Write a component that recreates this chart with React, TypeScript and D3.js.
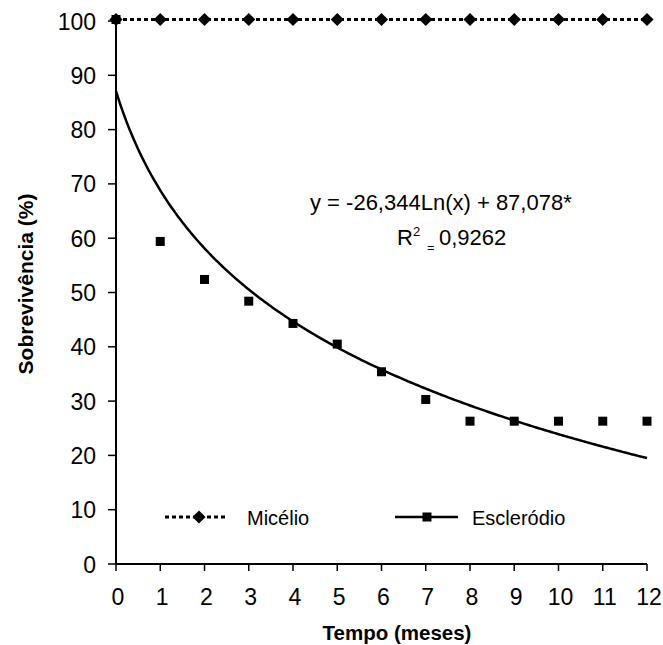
import React, { useEffect, useRef } from "react";
import * as d3 from "d3";

// months 0..12
const months = [0, 1, 2, 3, 4, 5, 6, 7, 8, 9, 10, 11, 12];
const micelio = [100, 100, 100, 100, 100, 100, 100, 100, 100, 100, 100, 100, 100];
const esclerodio = [100, 59.4, 52.4, 48.4, 44.3, 40.5, 35.4, 30.3, 26.3, 26.3, 26.3, 26.3, 26.3];
const yTicks = [0, 10, 20, 30, 40, 50, 60, 70, 80, 90, 100];
// trend line y = -26,344 ln(x) + 87,078 (x = position on the axis + 1)
const trendA = -26.344;
const trendB = 87.078;

const W = 663, H = 645;
const FONT = "Arial, 'Liberation Sans', sans-serif";

export default function App() {
  const ref = useRef<SVGSVGElement>(null);

  useEffect(() => {
    const svg = d3.select(ref.current);
    svg.selectAll("*").remove();

    const x = d3.scaleLinear().domain([0, 12]).range([116, 647]);
    const y = d3.scaleLinear().domain([0, 100]).range([564, 21]);

    const txt = (px: number, py: number, s: string, size: number, anchor = "start", weight = "normal") =>
      svg.append("text")
        .attr("x", px).attr("y", py)
        .attr("text-anchor", anchor)
        .style("font-family", FONT)
        .style("font-size", size + "px")
        .style("font-weight", weight)
        .text(s);

    // axes
    svg.append("line").attr("x1", x(0)).attr("x2", x(0)).attr("y1", y(100)).attr("y2", y(0))
      .attr("stroke", "#000").attr("stroke-width", 2);
    svg.append("line").attr("x1", x(0)).attr("x2", x(12)).attr("y1", y(0)).attr("y2", y(0))
      .attr("stroke", "#000").attr("stroke-width", 2);

    yTicks.forEach(t => {
      svg.append("line").attr("x1", x(0) - 8).attr("x2", x(0)).attr("y1", y(t)).attr("y2", y(t))
        .attr("stroke", "#000").attr("stroke-width", 1.5);
      txt(96, y(t) + 8.5, String(t), 23, "end");
    });
    months.forEach(m => {
      svg.append("line").attr("x1", x(m)).attr("x2", x(m)).attr("y1", y(0)).attr("y2", y(0) + 7)
        .attr("stroke", "#000").attr("stroke-width", 1.5);
      txt(x(m) + 2, 605, String(m), 23, "middle");
    });

    // titles
    txt(397, 640, "Tempo (meses)", 20.5, "middle", "bold");
    svg.append("text")
      .attr("transform", "translate(33,284) rotate(-90)")
      .attr("text-anchor", "middle")
      .style("font-family", FONT).style("font-size", "21px").style("font-weight", "bold")
      .text("Sobrevivência (%)");

    // trend line
    const trendPts = d3.range(0, 12.001, 0.05).map(v => [v, trendA * Math.log(v + 1) + trendB]);
    svg.append("path")
      .attr("d", d3.line<number[]>().x(d => x(d[0])).y(d => y(d[1]))(trendPts))
      .attr("fill", "none").attr("stroke", "#000").attr("stroke-width", 2.5);

    // Micélio
    svg.append("path")
      .attr("d", d3.line<number>().x((d, i) => x(months[i])).y(d => y(d) - 1.5)(micelio))
      .attr("fill", "none").attr("stroke", "#000").attr("stroke-width", 3)
      .attr("stroke-dasharray", "4,3");
    const diamond = d3.symbol().type(d3.symbolDiamond2).size(110);
    svg.selectAll(".dia").data(micelio).join("path").attr("class", "dia")
      .attr("d", diamond)
      .attr("transform", (d, i) => `translate(${x(months[i])},${y(d) - 1.5})`)
      .attr("fill", "#000");

    // Escleródio
    svg.selectAll(".sq").data(esclerodio).join("rect").attr("class", "sq")
      .attr("x", (d, i) => x(months[i]) - 4.5).attr("y", d => y(d) - 4.5 - (d === 100 ? 1.5 : 0))
      .attr("width", 9).attr("height", 9).attr("fill", "#000");

    // equation
    txt(310, 210, "y = -26,344Ln(x) + 87,078*", 22);
    txt(397, 245, "R", 22);
    txt(413, 236, "2", 13);
    txt(427, 252, "=", 13);
    txt(439, 245, "0,9262", 22);

    // legend
    const ly = 517;
    svg.append("line").attr("x1", 165).attr("x2", 228).attr("y1", ly).attr("y2", ly)
      .attr("stroke", "#000").attr("stroke-width", 3).attr("stroke-dasharray", "4,3");
    svg.append("path").attr("d", diamond).attr("transform", `translate(199,${ly})`).attr("fill", "#000");
    txt(247, ly + 8, "Micélio", 20);
    svg.append("line").attr("x1", 395).attr("x2", 458).attr("y1", ly).attr("y2", ly)
      .attr("stroke", "#000").attr("stroke-width", 2.5);
    svg.append("rect").attr("x", 427 - 4.5).attr("y", ly - 4.5).attr("width", 9).attr("height", 9).attr("fill", "#000");
    txt(472, ly + 8, "Escleródio", 20);
  }, []);

  return (
    <svg ref={ref} width={W} height={H} style={{ position: "absolute", left: 0, top: 0, background: "#fff" }} />
  );
}
